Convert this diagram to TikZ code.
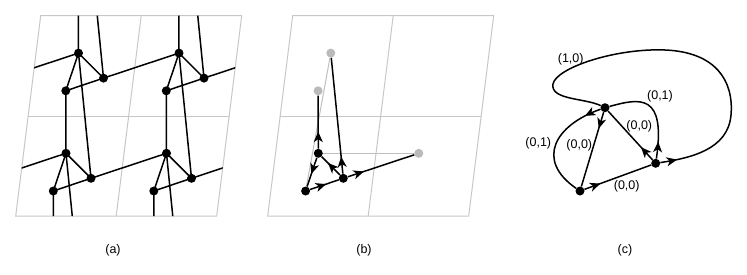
\documentclass[tikz,border=0pt]{standalone}
\usepackage{fontspec}
\setmainfont{Liberation Sans}
\usetikzlibrary{arrows.meta,decorations.markings,calc}

\begin{document}
\begin{tikzpicture}[x=1pt, y=-1pt,
  gridl/.style={draw=black!22, line width=1pt},
  edge/.style={line width=1.5pt, line join=round},
  dot/.style={circle, fill=black, inner sep=0pt, minimum size=9pt},
  gdot/.style={dot, fill=black!27},
  glink/.style={draw=black!25, line width=1pt},
  marr/.style={edge, postaction={decorate}, decoration={markings,
     mark=at position 17pt with {\arrow{Stealth[length=10.5pt,width=9pt,inset=3pt]}}}},
  lbl/.style={font=\fontsize{12.5}{14}\selectfont, inner sep=0pt}
]
\useasboundingbox (0,0) rectangle (747,274);

% lattices of (a) and (b)
\foreach \dx in {0,252} {
  \draw[gridl] (15.7+\dx,216) -- (216.7+\dx,216) -- (241.7+\dx,15.7) -- (40.7+\dx,15.7) -- cycle;
  \draw[gridl] (28.2+\dx,116) -- (229.2+\dx,116);
  \draw[gridl] (116.2+\dx,216) -- (141.2+\dx,15.7);
}

% (a) periodic net
\foreach \i in {0,...,3}
  \foreach \j in {0,...,3} {
    \coordinate (aA\i\j) at ({66+100.5*(\i-1)+12.5*(\j-1)}, {153.3-100.2*(\j-1)});
    \coordinate (aB\i\j) at ($(aA\i\j)+(25,25)$);
    \coordinate (aC\i\j) at ($(aA\i\j)+(-12.7,37.7)$);
  }
\begin{scope}
\clip (15.7,216) -- (216.7,216) -- (241.7,15.7) -- (40.7,15.7) -- cycle;
\foreach \i in {0,...,3}
  \foreach \j in {0,...,3} {
    \pgfmathtruncatemacro\ip{\i+1}
    \pgfmathtruncatemacro\jm{\j-1}
    \pgfmathtruncatemacro\jp{\j+1}
    \draw[edge] (aA\i\j) -- (aB\i\j) -- (aC\i\j) -- cycle;
    \ifnum\i<3 \draw[edge] (aB\i\j) -- (aA\ip\j); \fi
    \ifnum\j>0 \draw[edge] (aA\i\j) -- (aB\i\jm); \fi
    \ifnum\j<3 \draw[edge] (aA\i\j) -- (aC\i\jp); \fi
  }
\end{scope}
\foreach \i in {1,2}
  \foreach \j in {1,2} {
    \node[dot] (nA\i\j) at (aA\i\j) {};
    \node[dot] (nB\i\j) at (aB\i\j) {};
    \node[dot] (nC\i\j) at (aC\i\j) {};
  }

% (b) one cell with its translated neighbours
\node[dot] (bA) at (318.3,153.3) {};
\node[dot] (bB) at (343.3,178.3) {};
\node[dot] (bC) at (305.6,191) {};
\node[gdot] (bG1) at (330.8,53.1) {};
\node[gdot] (bG2) at (318.1,90.8) {};
\node[gdot] (bG3) at (418.8,153.3) {};
\draw[glink] (bC) -- (bG1);
\draw[glink] (bA) -- (bG3);
\draw[marr] (bC) -- (bB);
\draw[marr] (bA) -- (bC);
\draw[marr] (bB) -- (bA);
\draw[marr] (bA) -- (bG2);
\draw[marr] (bB) -- (bG1);
\draw[marr] (bB) -- (bG3);

% (c) labelled quotient graph
\node[dot] (cA) at (605,107.7) {};
\node[dot] (cB) at (655.7,163.3) {};
\node[dot] (cC) at (580,191) {};
\draw[marr] (cC) -- (cB);
\draw[marr] (cA) -- (cC);
\draw[marr] (cA) .. controls (555,125) and (535,160) .. (cC);
\draw[marr] (cB) -- (cA);
\draw[marr] (cB) .. controls (666,93) and (640,98) .. (cA);
\draw[marr] (cB) .. controls (690,158) and (728,150) .. (731,115)
  .. controls (734,80) and (715,52) .. (665,50)
  .. controls (615,48) and (556,68) .. (553,84)
  .. controls (550,100) and (585,98) .. (cA);
\node[lbl] (l10) at (570.7,59.3) {(1,0)};
\node[lbl] (l01r) at (660,96.7) {(0,1)};
\node[lbl] (l00r) at (639.3,126.7) {(0,0)};
\node[lbl] (l01l) at (538.3,143.3) {(0,1)};
\node[lbl] (l00l) at (579.3,145) {(0,0)};
\node[lbl] (l00b) at (626.7,186.7) {(0,0)};

\node[lbl] (capa) at (113,250) {(a)};
\node[lbl] (capb) at (364,250) {(b)};
\node[lbl] (capc) at (625,250) {(c)};
\end{tikzpicture}
\end{document}
